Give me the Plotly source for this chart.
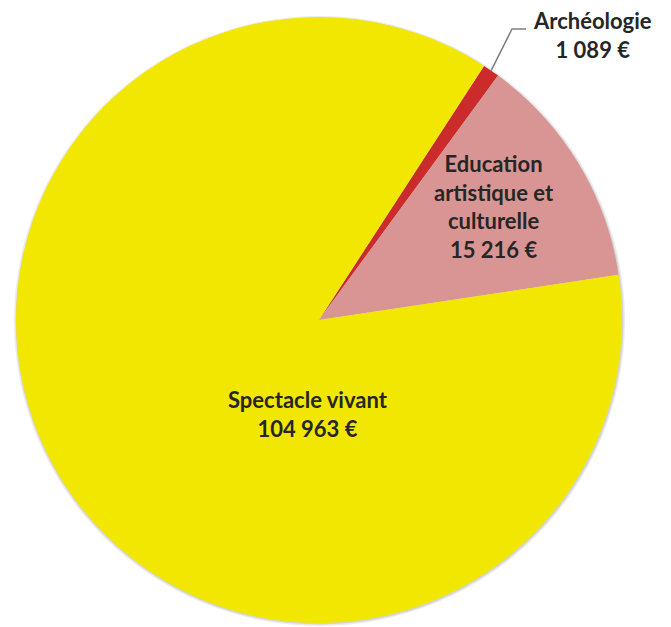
import math
import plotly.graph_objects as go

# Data
categories = ["Archéologie", "Education artistique et culturelle", "Spectacle vivant"]
label_lines = ["Archéologie", "Education<br>artistique et<br>culturelle", "Spectacle vivant"]
values = [1089, 15216, 104963]
value_labels = ["1 089 €", "15 216 €", "104 963 €"]
colors = ["#CC2B2B", "#D99594", "#F2E700"]

W, H = 671, 627
OFF = 8  # default page body margin shifts the plot
cx, cy, r = 319 - OFF, 320 - OFF, 303
rotation = 33

fig = go.Figure()
fig.add_trace(go.Pie(
    labels=categories,
    values=values,
    sort=False,
    direction="clockwise",
    rotation=rotation,
    marker=dict(colors=colors, line=dict(width=0)),
    textinfo="none",
    hoverinfo="label+value",
    showlegend=False,
    domain=dict(x=[(cx - r) / W, (cx + r) / W], y=[(H - cy - r) / H, (H - cy + r) / H]),
))

def px(x, y):
    return x / W, 1 - y / H

font = dict(family="Lato, Carlito, Calibri, sans-serif", size=22, color="#262626")

# label positions (pixels, page coords)
label_pos = [(592, 35), (494, 206), (308, 414)]
for i, (lx, ly) in enumerate(label_pos):
    x, y = px(lx - OFF, ly - OFF)
    fig.add_annotation(
        x=x, y=y, xref="paper", yref="paper",
        text="<b>" + label_lines[i] + "<br>" + value_labels[i] + "</b>",
        showarrow=False, font=font, align="center",
        xanchor="center", yanchor="middle", borderpad=0,
    )

# leader line for Archéologie, starting at the slice's mid-angle on the rim
total = sum(values)
mid = rotation + 360 * values[0] / total / 2
sx = cx + r * math.sin(math.radians(mid))
sy = cy - r * math.cos(math.radians(mid))
x0, y0 = px(sx, sy)
x1, y1 = px(512 - OFF, 29 - OFF)
x2, y2 = px(526 - OFF, 29 - OFF)
fig.add_shape(type="path", xref="paper", yref="paper",
              path=f"M {x0} {y0} L {x1} {y1} L {x2} {y2}",
              line=dict(color="#7F7F7F", width=1.5))

# soft shadow behind pie
for d, c in [(3, "#ececec"), (1.5, "#d4d4d4")]:
    a0, b0 = px(cx - r - d + 1, cy + r + d)
    a1, b1 = px(cx + r + d, cy - r - d + 2)
    fig.add_shape(type="circle", xref="paper", yref="paper", layer="below",
                  x0=a0, y0=b0, x1=a1, y1=b1, fillcolor=c, line=dict(width=0))

fig.update_layout(
    width=W, height=H,
    margin=dict(l=0, r=0, t=0, b=0),
    paper_bgcolor="white", plot_bgcolor="white",
)
fig.write_html("out.html")
